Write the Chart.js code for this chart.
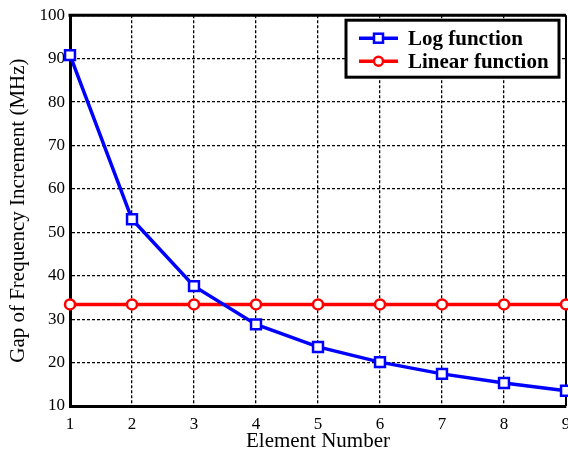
<!DOCTYPE html>
<html>
<head>
<meta charset="utf-8">
<script src="https://cdn.jsdelivr.net/npm/chart.js@4.4.1/dist/chart.umd.min.js"></script>
<style>
  html, body { margin: 0; padding: 0; overflow: hidden; background: #fff; }
  #wrap { width: 600px; height: 452px; }
</style>
</head>
<body>
<div id="wrap"><canvas id="c" width="600" height="452"></canvas></div>
<script>
const elementNumbers = [1, 2, 3, 4, 5, 6, 7, 8, 9];
const logFunction = [90.8, 53.0, 37.6, 28.8, 23.6, 20.1, 17.4, 15.3, 13.5];
const linearFunction = [33.4, 33.4, 33.4, 33.4, 33.4, 33.4, 33.4, 33.4, 33.4];
const seriesNames = ['Log function', 'Linear function'];
const xTitle = 'Element Number';
const yTitle = 'Gap of Frequency Increment (MHz)';

const BLUE = '#0000ff';
const RED = '#ff0000';
const SERIF = '"Liberation Serif", "Times New Roman", serif';

const toPts = (vals) => elementNumbers.map((x, i) => ({ x: x, y: vals[i] }));

const framePlugin = {
  id: 'frame',
  beforeDatasetsDraw(chart) {
    const { ctx, chartArea: a } = chart;
    ctx.save();
    ctx.strokeStyle = '#000';
    ctx.lineWidth = 3;
    ctx.beginPath();
    ctx.moveTo(a.left - 1.5, a.top);
    ctx.lineTo(a.right, a.top);
    ctx.stroke();
    ctx.lineWidth = 2;
    ctx.beginPath();
    ctx.moveTo(a.right, a.top);
    ctx.lineTo(a.right, a.bottom);
    ctx.stroke();
    ctx.restore();
  }
};

const legendPlugin = {
  id: 'boxLegend',
  afterDraw(chart) {
    const { ctx, chartArea: a } = chart;
    const right = a.right - 7, left = right - 213, top = a.top + 5, bottom = top + 57;
    ctx.save();
    ctx.fillStyle = '#fff';
    ctx.fillRect(left, top, right - left, bottom - top);
    ctx.strokeStyle = '#000';
    ctx.lineWidth = 3;
    ctx.strokeRect(left, top, right - left, bottom - top);
    const items = chart.data.datasets;
    items.forEach((ds, i) => {
      const y = top + 18 + i * 23;
      const x0 = left + 13, x1 = left + 52, xm = (x0 + x1) / 2;
      ctx.strokeStyle = ds.borderColor;
      ctx.lineWidth = 3.5;
      ctx.beginPath();
      ctx.moveTo(x0, y);
      ctx.lineTo(x1, y);
      ctx.stroke();
      ctx.fillStyle = '#fff';
      ctx.lineWidth = 2.5;
      if (ds.pointStyle === 'rect') {
        ctx.fillRect(xm - 4.5, y - 4.5, 9, 9);
        ctx.strokeRect(xm - 4.5, y - 4.5, 9, 9);
      } else {
        ctx.beginPath();
        ctx.arc(xm, y, 4.5, 0, Math.PI * 2);
        ctx.fill();
        ctx.stroke();
      }
      ctx.fillStyle = '#000';
      ctx.font = 'bold 21px ' + SERIF;
      ctx.textBaseline = 'middle';
      ctx.textAlign = 'left';
      ctx.fillText(ds.label, left + 62, y + 1);
    });
    ctx.restore();
  }
};

new Chart(document.getElementById('c'), {
  type: 'line',
  data: {
    datasets: [
      {
        label: seriesNames[0],
        data: toPts(logFunction),
        borderColor: BLUE,
        backgroundColor: '#fff',
        borderWidth: 3.5,
        pointStyle: 'rect',
        pointRadius: 7,
        pointBorderWidth: 2.5,
        pointBackgroundColor: '#fff',
        pointBorderColor: BLUE,
        tension: 0
      },
      {
        label: seriesNames[1],
        data: toPts(linearFunction),
        borderColor: RED,
        backgroundColor: '#fff',
        borderWidth: 3.5,
        pointStyle: 'circle',
        pointRadius: 5,
        pointBorderWidth: 2.5,
        pointBackgroundColor: '#fff',
        pointBorderColor: RED,
        tension: 0
      }
    ]
  },
  options: {
    responsive: false,
    animation: false,
    devicePixelRatio: 1,
    clip: false,
    layout: { padding: { left: 0, right: 34, top: 15, bottom: 0 } },
    plugins: {
      legend: { display: false },
      tooltip: { enabled: false }
    },
    scales: {
      x: {
        type: 'linear',
        min: 1, max: 9,
        afterFit(s) { s.height = 46; },
        ticks: {
          stepSize: 1,
          color: '#000',
          padding: 8,
          font: { family: SERIF, size: 17 },
          maxRotation: 0
        },
        grid: { color: '#000', lineWidth: 1.3, drawTicks: false },
        border: { display: true, color: '#000', width: 3, dash: [3, 2] },
        title: {
          display: true,
          text: xTitle,
          color: '#000',
          font: { family: SERIF, size: 21 },
          padding: { top: 0, bottom: -2 }
        }
      },
      y: {
        min: 10, max: 100,
        afterFit(s) { s.width = 70; },
        ticks: {
          stepSize: 10,
          color: '#000',
          padding: 5,
          font: { family: SERIF, size: 17 }
        },
        grid: { color: '#000', lineWidth: 1.3, drawTicks: false },
        border: { display: true, color: '#000', width: 3, dash: [3, 2] },
        title: {
          display: true,
          text: yTitle,
          color: '#000',
          font: { family: SERIF, size: 21 },
          padding: { top: 6, bottom: 0 }
        }
      }
    }
  },
  plugins: [framePlugin, legendPlugin]
});
</script>
</body>
</html>
